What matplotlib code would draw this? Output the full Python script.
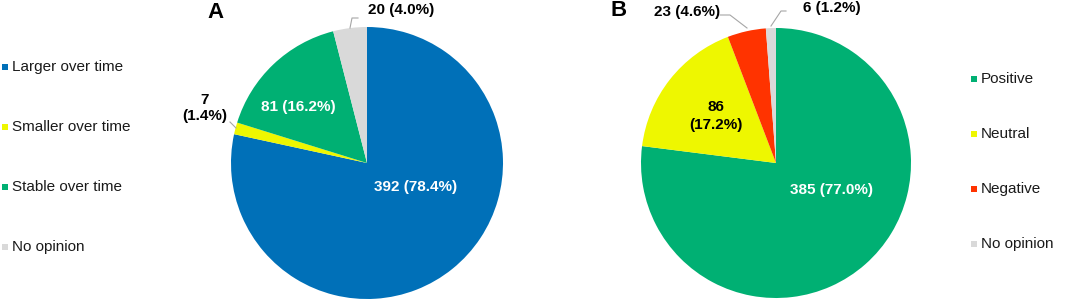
import matplotlib.pyplot as plt
import numpy as np

plt.rcParams['font.family'] = ['Liberation Sans', 'DejaVu Sans']

# panel A data
cats_a = ['Larger over time', 'Smaller over time', 'Stable over time', 'No opinion']
vals_a = [392, 7, 81, 20]
cols_a = ['#0070B8', '#EEF700', '#00B073', '#D9D9D9']

# panel B data
cats_b = ['Positive', 'Neutral', 'Negative', 'No opinion']
vals_b = [385, 86, 23, 6]
cols_b = ['#00B073', '#EEF700', '#FF3300', '#D9D9D9']

W, H = 1065, 302
fig = plt.figure(figsize=(W / 100, H / 100), dpi=100)
ax = fig.add_axes([0, 0, 1, 1])


def lab(v, tot, sep=' '):
    return '%d%s(%.1f%%)' % (v, sep, v / tot * 100)


def Y(py):
    # pixel row -> data y
    return H - py


# pies
ax.pie(vals_a, colors=cols_a, startangle=90, counterclock=False,
       center=(367, Y(163)), radius=136, wedgeprops=dict(linewidth=0))
ax.pie(vals_b, colors=cols_b, startangle=90, counterclock=False,
       center=(776, Y(163)), radius=135, wedgeprops=dict(linewidth=0))
ax.set_xlim(0, W)
ax.set_ylim(0, H)
ax.set_aspect('auto')
ax.axis('off')

fs = 11
ta, tb = sum(vals_a), sum(vals_b)

# panel letters
ax.text(215, Y(12), 'A', fontsize=16, fontweight='bold', ha='center', va='center')
ax.text(619, Y(11), 'B', fontsize=16, fontweight='bold', ha='center', va='center')

# labels A
ax.text(416, Y(187), lab(vals_a[0], ta), color='white', fontsize=fs, fontweight='bold',
        ha='center', va='center')
ax.text(298, Y(107), lab(vals_a[2], ta), color='white', fontsize=fs, fontweight='bold',
        ha='center', va='center')
ax.text(205, Y(108), lab(vals_a[1], ta, '\n'), color='black', fontsize=fs, fontweight='bold',
        ha='center', va='center', linespacing=1.1)
ax.text(401, Y(10), lab(vals_a[3], ta), color='black', fontsize=fs, fontweight='bold',
        ha='center', va='center')

# labels B
ax.text(832, Y(190), lab(vals_b[0], tb), color='white', fontsize=fs, fontweight='bold',
        ha='center', va='center')
ax.text(716, Y(116), lab(vals_b[1], tb, '\n'), color='black', fontsize=fs, fontweight='bold',
        ha='center', va='center', linespacing=1.3)
ax.text(687, Y(12), lab(vals_b[2], tb), color='black', fontsize=fs, fontweight='bold',
        ha='center', va='center')
ax.text(832, Y(8), lab(vals_b[3], tb), color='black', fontsize=fs, fontweight='bold',
        ha='center', va='center')

# leader lines
lc = '#A6A6A6'
ax.plot([230, 236], [Y(122), Y(128)], color=lc, lw=0.8)
ax.plot([358, 352, 350], [Y(18), Y(18), Y(28)], color=lc, lw=0.8)
ax.plot([720, 730, 747], [Y(15), Y(15), Y(28)], color=lc, lw=0.8)
ax.plot([786, 781, 771], [Y(11), Y(11), Y(26)], color=lc, lw=0.8)

# legends
for i, (c, col) in enumerate(zip(cats_a, cols_a)):
    y = Y(67 + 60 * i)
    ax.scatter([5], [y], marker='s', s=22, color=col, linewidths=0)
    ax.text(12, y, c, fontsize=fs, ha='left', va='center', color='#1a1a1a')

for i, (c, col) in enumerate(zip(cats_b, cols_b)):
    y = Y(79 + 55 * i)
    ax.scatter([974], [y], marker='s', s=22, color=col, linewidths=0)
    ax.text(981, y, c, fontsize=fs, ha='left', va='center', color='#1a1a1a')

fig.savefig('out.png', dpi=100)
